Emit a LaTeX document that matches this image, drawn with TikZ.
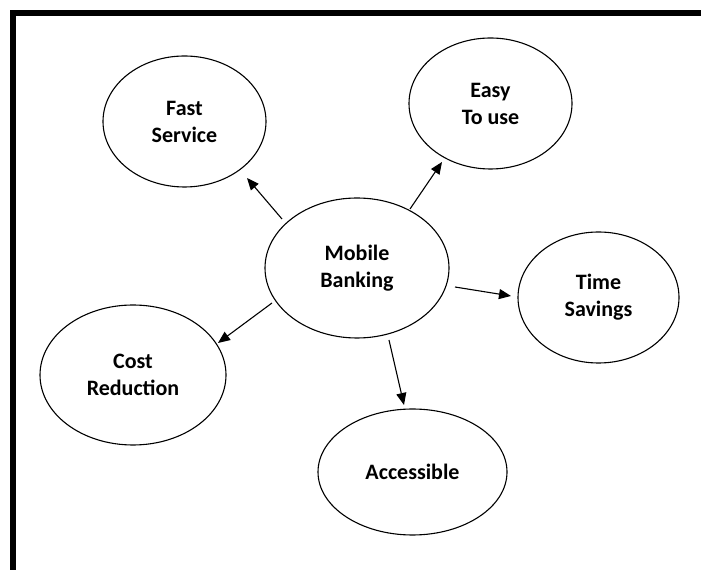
\documentclass[tikz,border=0pt]{standalone}
\usepackage{fontspec}
\setmainfont{Carlito}
\usetikzlibrary{shapes.geometric,arrows.meta,calc}

\tikzset{
  bubble/.style={ellipse, draw=black, line width=1.1pt, inner sep=0pt, outer sep=0pt,
                 align=center, font=\fontsize{22}{27}\selectfont\bfseries},
  arr/.style={line width=1.1pt, -{Triangle[length=12pt,width=10pt]}},
  frame/.style={fill=black, draw=none}
}

\begin{document}
\begin{tikzpicture}[x=1pt,y=1pt]
  \useasboundingbox (0,0) rectangle (701,570);
  \fill[white] (0,0) rectangle (701,570);

  % heavy rule along the top and left edges
  \fill[frame] (10,554) rectangle (701,560);
  \fill[frame] (10,0) rectangle (16,560);

  % central idea and its benefits
  \node[bubble, minimum width=184pt, minimum height=140pt] (mb) at (357,302) {Mobile\\Banking};
  \node[bubble, minimum width=163pt, minimum height=131pt] (fs) at (184.5,448.5) {Fast\\Service};
  \node[bubble, minimum width=163pt, minimum height=131pt] (ey) at (490.5,466.5) {Easy\\To use};
  \node[bubble, minimum width=161pt, minimum height=131pt] (ts) at (598.5,272.5) {Time\\Savings};
  \node[bubble, minimum width=186pt, minimum height=140pt] (cr) at (133,195) {Cost\\Reduction};
  \node[bubble, minimum width=189pt, minimum height=126pt] (ac) at (412.5,98) {Accessible};

  % arrows radiating from the centre
  \draw[arr] ($(mb.center)+(-75,49)$) -- ($(fs.center)+(62.5,-56.5)$);
  \draw[arr] ($(mb.center)+(53,59)$)  -- ($(ey.center)+(-48.5,-58.5)$);
  \draw[arr] ($(mb.center)+(98,-19)$) -- ($(ts.center)+(-87.5,1.5)$);
  \draw[arr] ($(mb.center)+(-85,-35)$) -- ($(cr.center)+(85,32)$);
  \draw[arr] ($(mb.center)+(32,-72)$) -- ($(ac.center)+(-8.5,67)$);
\end{tikzpicture}
\end{document}
